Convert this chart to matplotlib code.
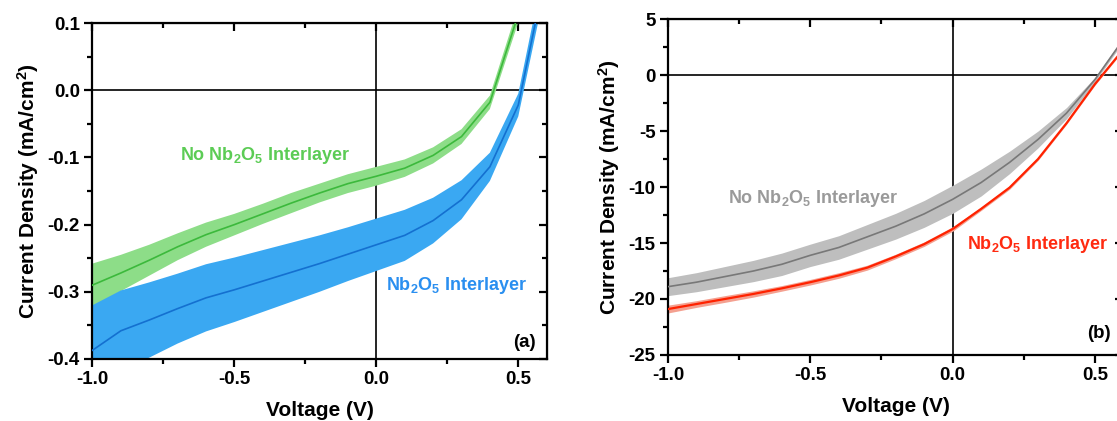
import numpy as np
import matplotlib
matplotlib.use('Agg')
import matplotlib.pyplot as plt
from matplotlib.ticker import MultipleLocator, FormatStrFormatter

plt.rcParams['font.family'] = ['Liberation Sans', 'DejaVu Sans']
plt.rcParams['font.weight'] = 'bold'
plt.rcParams['axes.labelweight'] = 'bold'
plt.rcParams['axes.unicode_minus'] = False
plt.rcParams['mathtext.fontset'] = 'custom'
plt.rcParams['mathtext.rm'] = 'Liberation Sans:bold'
plt.rcParams['mathtext.bf'] = 'Liberation Sans:bold'
plt.rcParams['mathtext.default'] = 'bf'


# Data

# panel (a)
volt_a = [-1.0, -0.9, -0.8, -0.7, -0.6, -0.5, -0.4, -0.3, -0.2, -0.1,
          0.0, 0.1, 0.2, 0.3, 0.4, 0.5, 0.6]
no_nb_a = [-0.290, -0.272, -0.253, -0.233, -0.215, -0.200, -0.184, -0.168, -0.153, -0.139,
           -0.128, -0.116, -0.097, -0.069, -0.018, 0.113, 0.30]
no_nb_a_err = [0.032, 0.027, 0.023, 0.020, 0.018, 0.016, 0.015, 0.015, 0.014, 0.014,
               0.014, 0.013, 0.012, 0.011, 0.010, 0.012, 0.015]
nb_a = [-0.387, -0.358, -0.342, -0.325, -0.309, -0.297, -0.284, -0.271, -0.258, -0.244,
        -0.230, -0.216, -0.194, -0.163, -0.114, -0.022, 0.181]
nb_a_err = [0.067, 0.060, 0.056, 0.052, 0.050, 0.048, 0.046, 0.044, 0.042, 0.040,
            0.039, 0.038, 0.034, 0.029, 0.021, 0.017, 0.020]

# panel (b)
volt_b = [-1.0, -0.9, -0.8, -0.7, -0.6, -0.5, -0.4, -0.3, -0.2, -0.1,
          0.0, 0.1, 0.2, 0.3, 0.4, 0.5, 0.6]
no_nb_b = [-18.9, -18.5, -18.0, -17.5, -16.9, -16.1, -15.4, -14.45, -13.5, -12.4,
           -11.1, -9.6, -7.8, -5.75, -3.4, -0.4, 3.2]
no_nb_b_err = [0.8, 0.85, 0.9, 0.95, 1.0, 1.0, 1.05, 1.1, 1.15, 1.2,
               1.25, 1.2, 1.0, 0.75, 0.5, 0.2, 0.2]
nb_b = [-20.9, -20.45, -20.0, -19.55, -19.05, -18.5, -17.9, -17.2, -16.2, -15.1,
        -13.75, -11.95, -10.05, -7.5, -4.3, -0.8, 2.3]
nb_b_err = [0.35, 0.3, 0.3, 0.28, 0.25, 0.25, 0.25, 0.22, 0.2, 0.2,
            0.2, 0.15, 0.15, 0.12, 0.1, 0.1, 0.1]

label_no = 'No Nb$_2$O$_5$ Interlayer'
label_nb = 'Nb$_2$O$_5$ Interlayer'


def style_axes(ax, xmin, xmax, ymin, ymax, ymajor, yfmt):

    # Origin-like frame: ticks out on left/bottom, in on top/right

    ax.set_xlim(xmin, xmax)
    ax.set_ylim(ymin, ymax)
    ax.xaxis.set_major_locator(MultipleLocator(0.5))
    ax.xaxis.set_minor_locator(MultipleLocator(0.25))
    ax.xaxis.set_major_formatter(FormatStrFormatter('%.1f'))
    ax.yaxis.set_major_locator(MultipleLocator(ymajor))
    ax.yaxis.set_minor_locator(MultipleLocator(ymajor / 2))
    ax.yaxis.set_major_formatter(FormatStrFormatter(yfmt))
    ax.tick_params(which='major', direction='out', length=6, width=1.6, labelsize=13.5, pad=3)
    ax.tick_params(which='minor', direction='out', length=3.5, width=1.6)
    for sp in ax.spines.values():
        sp.set_linewidth(1.6)

    top = ax.secondary_xaxis('top')
    top.xaxis.set_major_locator(MultipleLocator(0.5))
    top.xaxis.set_minor_locator(MultipleLocator(0.25))
    top.tick_params(which='major', direction='in', length=6, width=1.6, labeltop=False)
    top.tick_params(which='minor', direction='in', length=3.5, width=1.6)
    right = ax.secondary_yaxis('right')
    right.yaxis.set_major_locator(MultipleLocator(ymajor))
    right.yaxis.set_minor_locator(MultipleLocator(ymajor / 2))
    right.tick_params(which='major', direction='in', length=6, width=1.6, labelright=False)
    right.tick_params(which='minor', direction='in', length=3.5, width=1.6)

    ax.axhline(0, color='black', lw=1.2, zorder=1)
    ax.axvline(0, color='black', lw=1.2, zorder=1)
    ax.set_xlabel('Voltage (V)', fontsize=15, labelpad=9)
    ax.set_ylabel('Current Density (mA/cm$^2$)', fontsize=15, labelpad=5)


def band(ax, x, y, err, fill_color, line_color, lw):
    x = np.array(x)
    y = np.array(y)
    err = np.array(err)
    ax.fill_between(x, y - err, y + err, color=fill_color, lw=0, zorder=2)
    ax.plot(x, y, color=line_color, lw=lw, zorder=3)


fig = plt.figure(figsize=(11.17, 4.21), dpi=100)
ax_a = fig.add_axes([0.0828, 0.1473, 0.4066, 0.798])
ax_b = fig.add_axes([0.5980, 0.1568, 0.4078, 0.798])

# (a)
band(ax_a, volt_a, no_nb_a, no_nb_a_err, '#8ddd88', '#3cb93c', 1.2)
band(ax_a, volt_a, nb_a, nb_a_err, '#3aa8f2', '#1470d0', 1.2)
style_axes(ax_a, -1.0, 0.6, -0.4, 0.1, 0.1, '%.1f')
ax_a.text(-0.69, -0.097, label_no, color='#5ccc55', fontsize=13, va='center', ha='left')
ax_a.text(0.035, -0.291, label_nb, color='#2a8ff0', fontsize=13, va='center', ha='left')
ax_a.text(0.56, -0.375, '(a)', color='black', fontsize=13.5, va='center', ha='right')

# (b)
band(ax_b, volt_b, no_nb_b, no_nb_b_err, '#bebebe', '#787878', 1.2)
band(ax_b, volt_b, nb_b, nb_b_err, '#f4a090', '#ff2200', 1.6)
style_axes(ax_b, -1.0, 0.6, -25, 5, 5, '%d')
ax_b.text(-0.79, -11.0, label_no, color='#9a9a9a', fontsize=13, va='center', ha='left')
ax_b.text(0.05, -15.15, label_nb, color='#ff2a10', fontsize=13, va='center', ha='left')
ax_b.text(0.556, -23.05, '(b)', color='black', fontsize=13.5, va='center', ha='right')

fig.savefig('out.png', dpi=100)
